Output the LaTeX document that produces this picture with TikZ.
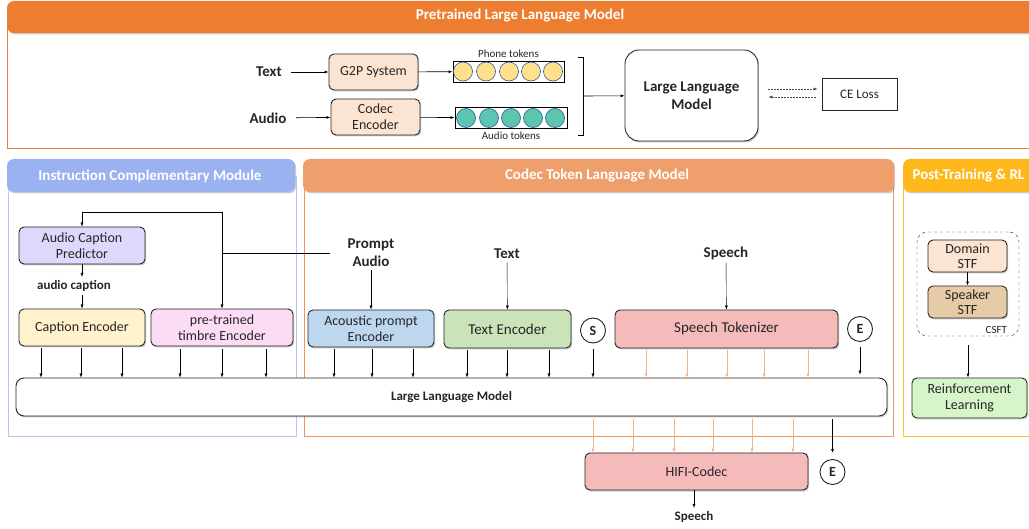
\documentclass[tikz,border=0pt]{standalone}
\usepackage{fontspec}
\setmainfont{Carlito}
\usetikzlibrary{arrows.meta,positioning,shadows}
\definecolor{hdrorange}{HTML}{ED7D31}
\definecolor{hdrblue}{HTML}{9BB2F0}
\definecolor{hdrsalmon}{HTML}{EF9F6B}
\definecolor{hdryellow}{HTML}{FFB81C}
\definecolor{icmline}{HTML}{B4C6F2}
\definecolor{ctlline}{HTML}{F0955A}
\definecolor{postline}{HTML}{FFC233}
\definecolor{peach}{HTML}{FCE4D2}
\definecolor{lav}{HTML}{DCD9FC}
\definecolor{capyel}{HTML}{FFF2CC}
\definecolor{timpink}{HTML}{FCDCF4}
\definecolor{acblue}{HTML}{BDD7EE}
\definecolor{txgreen}{HTML}{CBE3B9}
\definecolor{spred}{HTML}{F4BBBA}
\definecolor{spktan}{HTML}{E6CCA6}
\definecolor{rlgreen}{HTML}{D6F5CA}
\definecolor{phoney}{HTML}{FFE08C}
\definecolor{audteal}{HTML}{5CC5B0}
\definecolor{tokline}{HTML}{2F5597}
\definecolor{tokor}{HTML}{F4B183}

\begin{document}
\begin{tikzpicture}[x=1pt,y=-1pt,>={Latex[length=4pt,width=3pt]},
  every node/.style={font=\fontsize{14}{16}\selectfont,text=black!85},
  sh/.style={drop shadow={shadow xshift=1.2pt,shadow yshift=-1.5pt,opacity=0.4}},
  blk/.style={draw=black!85,line width=0.9pt,rounded corners=5pt,align=center,sh},
  lbl/.style={font=\fontsize{15}{18}\selectfont\bfseries,align=center},
  small/.style={font=\fontsize{11}{12}\selectfont},
  htxt/.style={text=white,font=\fontsize{15}{17}\selectfont\bfseries},
  tok/.style={circle,draw=tokline,line width=0.6pt,minimum size=19pt,inner sep=0pt},
  sym/.style={circle,draw=black!85,line width=0.9pt,minimum size=25pt,inner sep=0pt,
    font=\fontsize{14}{16}\selectfont\bfseries}]
\useasboundingbox (0,0) rectangle (1029,529);

% panels and headers
\draw[hdrorange,fill=white,sh] (7,16) rectangle (1045,148);
\draw[icmline,fill=white,sh] (8,176) rectangle (296,436);
\draw[ctlline,fill=white,sh] (304,176) rectangle (893,436);
\draw[postline,fill=white,sh] (903,176) rectangle (1045,436);
\fill[hdrorange,rounded corners=7pt,sh] (7,1) rectangle (1045,33);
\fill[hdrblue,rounded corners=7pt,sh] (7,159) rectangle (295,192);
\fill[hdrsalmon,rounded corners=7pt,sh] (303,159) rectangle (894,192);
\fill[hdryellow,rounded corners=7pt,sh] (903,159) rectangle (1045,192);
\node[htxt] (H1) at (520,16) {Pretrained Large Language Model};
\node[htxt] (H2) at (150,176) {Instruction Complementary Module};
\node[htxt] (H3) at (597,176) {Codec Token Language Model};
\node[htxt,anchor=west] (H4) at (909,176) {Post-Training \& RL};

% pretraining
\node[lbl] (T0) at (269,72) {Text};
\node[lbl] (A0) at (268,118) {Audio};
\node[blk,fill=peach,minimum width=89pt,minimum height=36pt] (G2P) at (373.5,72) {G2P System};
\node[blk,fill=peach,minimum width=89pt,minimum height=36pt] (CEnc) at (375.5,117) {Codec\\Encoder};
\node[draw,line width=0.8pt,minimum width=111pt,minimum height=21pt] (PT) at (508.5,71.5) {};
\node[draw,line width=0.8pt,minimum width=112pt,minimum height=21pt] (AT) at (511,118) {};
\foreach \x in {463,486,509,531,553}
  \node[tok,fill=phoney] (P\x) at (\x,71.5) {};
\foreach \x in {466,489,511,533,555}
  \node[tok,fill=audteal] (Q\x) at (\x,118) {};
\node[small,above=-1pt of PT] (PTl) {Phone tokens};
\node[small,below=-1pt of AT] (ATl) {Audio tokens};
\coordinate (BR) at (583,96);
\draw[line width=0.6pt] (578,57) -- (583,57) -- (583,135) -- (578,135);
\node[blk,lbl,rounded corners=14pt,fill=white,minimum width=133pt,minimum height=91pt] (LLM1) at (691.5,95.5) {Large Language\\Model};
\node[draw=black!85,line width=0.9pt,minimum width=75pt,minimum height=32pt,font=\fontsize{13}{15}\selectfont] (CE) at (859.5,94) {CE Loss};
\path[->,line width=0.6pt]
(T0) edge[shorten <=6pt] (G2P)
(A0) edge[shorten <=6pt] (CEnc)
(G2P) edge (PT)
(CEnc) edge (AT)
(BR) edge (LLM1);
\draw[->,black!70,line width=0.5pt,dash pattern=on 2pt off 1pt,shorten <=10pt,shorten >=4pt]
  ([yshift=6.5pt]LLM1.east) -- ([yshift=6.5pt]LLM1.east -| CE.west);
\draw[<-,black!70,line width=0.5pt,dash pattern=on 2pt off 1pt,shorten <=10pt,shorten >=5pt]
  ([yshift=-1.5pt]LLM1.east) -- ([yshift=-1.5pt]LLM1.east -| CE.west);

% instruction module
\node[blk,fill=lav,minimum width=126pt,minimum height=37pt] (ACP) at (82,245.5) {Audio Caption\\Predictor};
\node[font=\fontsize{13}{15}\selectfont\bfseries] (AC) at (74,286) {audio caption};
\node[blk,fill=capyel,minimum width=126pt,minimum height=37pt] (CapE) at (82,327.5) {Caption Encoder};
\node[blk,fill=timpink,minimum width=142pt,minimum height=37pt] (TimE) at (222,327.5) {pre-trained\\timbre Encoder};
\draw[->] (ACP.south) -- (ACP.south |- AC.north);
\draw[->] (AC.south -| CapE.north) -- (CapE.north);

% codec token language model
\node[lbl] (PA) at (371,253) {Prompt\\Audio};
\node[blk,fill=acblue,minimum width=126pt,minimum height=37pt] (AcE) at (371,328.5) {Acoustic prompt\\Encoder};
\node[lbl] (TX) at (507,254) {Text};
\node[blk,fill=txgreen,minimum width=127pt,minimum height=38pt,font=\fontsize{15}{17}\selectfont] (TxE) at (507.5,329) {Text Encoder};
\node[sym] (S) at (593,330.5) {S};
\node[lbl] (SP) at (726,253) {Speech};
\node[blk,fill=spred,minimum width=223pt,minimum height=38pt,font=\fontsize{15}{17}\selectfont] (SpT) at (726.5,329) {Speech Tokenizer};
\node[sym] (E1) at (860,329) {E};
\node[blk,fill=white,rounded corners=8pt,minimum width=871pt,minimum height=38pt,font=\fontsize{13}{15}\selectfont\bfseries] (LLM2) at (451.5,397) {Large Language Model};
\path[->]
(PA) edge (AcE)
(TX) edge (TxE)
(SP) edge (SpT);
\coordinate (J) at (222,253);
\draw[shorten <=14pt] (PA.west |- J) -- (J);
\draw[->] (J) -- (222,212) -| (ACP.north);
\draw[->] (J) -- (TimE.north);
\foreach \x in {41,81,122}
  \draw[->,shorten <=2pt] (\x,0 |- CapE.south) -- (\x,0 |- LLM2.north);
\foreach \x in {180,222,266}
  \draw[->,shorten <=3pt] (\x,0 |- TimE.south) -- (\x,0 |- LLM2.north);
\foreach \x in {334,372,413}
  \draw[->,shorten <=2pt] (\x,0 |- AcE.south) -- (\x,0 |- LLM2.north);
\foreach \x in {467,507,549}
  \draw[->,shorten <=2pt] (\x,0 |- TxE.south) -- (\x,0 |- LLM2.north);
\foreach \x in {646,687,727,764,808}
  \draw[->,tokor,shorten <=2pt] (\x,0 |- SpT.south) -- (\x,0 |- LLM2.north);
\draw[->,shorten <=6pt] (S) -- (S |- LLM2.north);
\draw[->,shorten <=5pt,shorten >=3pt] (E1) -- (E1 |- LLM2.north);

% decoding
\node[blk,fill=spred,minimum width=223pt,minimum height=37pt] (HIFI) at (696.5,471.5) {HIFI-Codec};
\node[sym] (E2) at (832.5,472) {E};
\node[font=\fontsize{13}{15}\selectfont\bfseries] (SPo) at (694,517) {Speech};
\foreach \x in {593,633,674,713,752,793}
  \draw[->,tokor,shorten <=3pt] (\x,0 |- LLM2.south) -- (\x,0 |- HIFI.north);
\draw[->,line width=0.8pt,shorten <=3pt,shorten >=6pt] (E2 |- LLM2.south) -- (E2.north);
\draw[->] (HIFI.south -| SPo) -- (SPo.north);

% post-training
\node[draw=black!85,dashed,rounded corners=10pt,minimum width=102pt,minimum height=104pt] (CSFT) at (968,284) {};
\node[small,anchor=south east,inner sep=2pt] (CSl) at ([xshift=-10pt]CSFT.south east) {CSFT};
\node[blk,fill=peach,inner sep=1pt,font=\fontsize{14}{15}\selectfont,minimum width=79pt,minimum height=32pt] (DS) at (967.5,256) {Domain\\STF};
\node[blk,fill=spktan,inner sep=1pt,font=\fontsize{14}{15}\selectfont,minimum width=79pt,minimum height=32pt] (SS) at (967.5,302) {Speaker\\STF};
\node[blk,fill=rlgreen,minimum width=115pt,minimum height=40pt] (RL) at (969.5,398) {Reinforcement\\Learning};
\draw[->,line width=0.6pt] (DS) -- (SS);
\draw[->,line width=0.6pt,shorten <=9pt] (CSFT.south) -- (CSFT.south |- RL.north);
\end{tikzpicture}
\end{document}
